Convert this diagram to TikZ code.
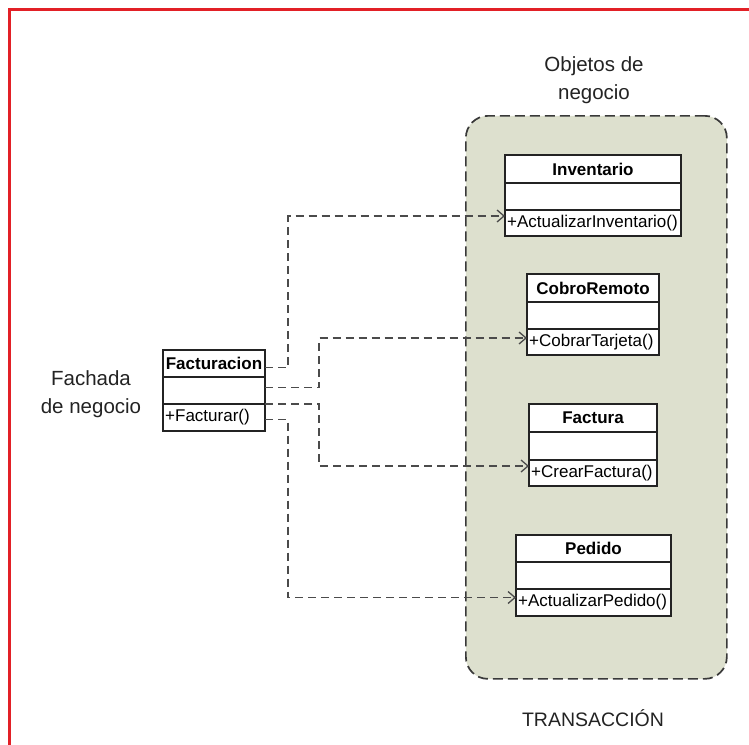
\documentclass[tikz,border=0pt]{standalone}
\usepackage{fontspec}
\setmainfont{Liberation Sans}
\usetikzlibrary{arrows.meta,calc}

\definecolor{frame}{RGB}{226,32,38}
\definecolor{panel}{RGB}{221,224,206}
\definecolor{ink}{RGB}{35,35,35}
\definecolor{wire}{RGB}{75,75,75}

\tikzset{
  classbox/.style={draw=ink, line width=1.3pt, fill=white, inner sep=0pt, outer sep=0pt, anchor=north west},
  compart/.style={inner sep=0pt, outer sep=0pt, anchor=north west},
  titlefont/.style={font=\fontsize{17}{20}\selectfont\bfseries},
  optext/.style={font=\fontsize{17}{20}\selectfont, inner xsep=2pt, inner ysep=0pt, anchor=west},
  divider/.style={draw=ink, line width=1.3pt},
  conn/.style={draw=wire, line width=1.4pt, dash pattern=on 8pt off 5pt,
    -{Straight Barb[length=7pt,width=12pt,line width=1.3pt]}},
  caption/.style={font=\fontsize{20.5}{28}\selectfont, align=center, inner sep=0pt, text=ink},
  group/.style={draw=ink!90, line width=1.7pt, dash pattern=on 10pt off 5pt, fill=panel,
    rounded corners=22pt, inner sep=0pt, anchor=north west},
}

% #1 name, (#2,#3) top left, (#4,#5) bottom right, #6/#7 divider rows, #8 title, #9 operation
\newcommand\umlclass[9]{%
  \node[classbox, minimum width={(#4-#2)*1pt}, minimum height={(#5-#3)*1pt}] (#1) at (#2,#3) {};
  \node[compart, titlefont, minimum width={(#4-#2)*1pt}, minimum height={(#6-#3)*1pt}] (#1-head) at (#2,#3) {#8};
  \node[compart, minimum width={(#4-#2)*1pt}, minimum height={(#7-#6)*1pt}] (#1-attr) at (#2,#6) {};
  \node[compart, minimum width={(#4-#2)*1pt}, minimum height={(#5-#7)*1pt}] (#1-op) at (#2,#7) {};
  \node[optext] (#1-optxt) at (#1-op.west) {#9};
  \draw[divider] (#1-attr.north west) -- (#1-attr.north east);
  \draw[divider] (#1-op.north west) -- (#1-op.north east);
}

\begin{document}
\begin{tikzpicture}[x=1pt, y=-1pt]
  \useasboundingbox (0,0) rectangle (749,744);
  \fill[white] (0,0) rectangle (749,744);

  % outer frame
  \draw[frame, line width=3pt] (9,760) -- (9,9) -- (760,9);

  % business objects group
  \node[group, minimum width=261pt, minimum height=563pt] (grp) at (465,115) {};
  \node[caption] (grpname) at (594,80) {Objetos de\\negocio};
  \node[caption, font=\fontsize{19.5}{24}\selectfont, anchor=base] (txname) at (593,726) {TRANSACCIÓN};

  % facade label
  \node[caption] (facname) at (91,394) {Fachada\\de negocio};

  % classes
  \umlclass{Fac}{163}{350}{265}{431}{377}{404}{Facturacion}{+Facturar()}
  \umlclass{Inv}{505}{155}{681}{236}{183}{210}{Inventario}{+ActualizarInventario()}
  \umlclass{Cob}{527}{274}{659}{355}{302}{329}{CobroRemoto}{+CobrarTarjeta()}
  \umlclass{Fat}{529}{404}{657}{486}{432}{460}{Factura}{+CrearFactura()}
  \umlclass{Ped}{516}{535}{671}{616}{562}{589}{Pedido}{+ActualizarPedido()}

  % dependencies from the facade
  \draw[conn] ([yshift=-4pt]Fac-head.east) -- ++(23,0) |- ([yshift=7pt]Inv-op.west);
  \draw[conn] ([yshift=3pt]Fac-attr.east) -- ++(54,0) |- ([yshift=4pt]Cob-op.west);
  \draw[conn] (Fac-attr.south east) -- ++(54,0) |- ([yshift=7pt]Fat-op.west);
  \draw[conn] ([yshift=-2pt]Fac-op.east) -- ++(23,0) |- ([yshift=5pt]Ped-op.west);
\end{tikzpicture}
\end{document}
